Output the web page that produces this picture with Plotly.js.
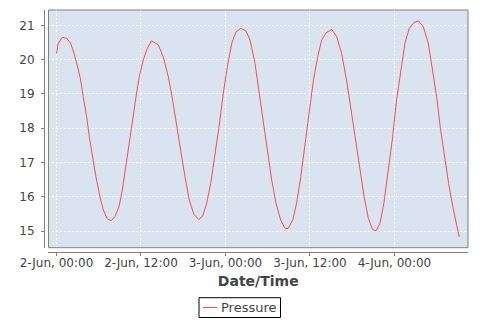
<!DOCTYPE html>
<html>
<head>
<meta charset="utf-8">
<script src="https://cdn.plot.ly/plotly-3.0.1.min.js"></script>
<style>html,body{margin:0;padding:0;background:#fff;}#chart{width:480px;height:320px;}</style>
</head>
<body>
<div id="chart"></div>
<script>
var seriesName = "Pressure";
var times = [
"2016-06-02 00:00","2016-06-02 00:15","2016-06-02 00:51","2016-06-02 01:27","2016-06-02 02:00","2016-06-02 02:30","2016-06-02 02:57","2016-06-02 03:26","2016-06-02 03:48","2016-06-02 04:17",
"2016-06-02 04:40","2016-06-02 05:08","2016-06-02 05:36","2016-06-02 06:11","2016-06-02 06:39","2016-06-02 07:12","2016-06-02 07:44","2016-06-02 08:18","2016-06-02 08:53","2016-06-02 09:21",
"2016-06-02 09:52","2016-06-02 10:21","2016-06-02 10:49","2016-06-02 11:18","2016-06-02 11:46","2016-06-02 12:20","2016-06-02 12:54","2016-06-02 13:30","2016-06-02 14:28","2016-06-02 15:10",
"2016-06-02 15:53","2016-06-02 16:30","2016-06-02 17:04","2016-06-02 17:38","2016-06-02 18:15","2016-06-02 18:52","2016-06-02 19:30","2016-06-02 20:12","2016-06-02 20:46","2016-06-02 21:20",
"2016-06-02 21:54","2016-06-02 22:30","2016-06-02 23:05","2016-06-02 23:42","2016-06-03 00:16","2016-06-03 00:54","2016-06-03 01:30","2016-06-03 02:10","2016-06-03 02:54","2016-06-03 03:30",
"2016-06-03 04:12","2016-06-03 04:48","2016-06-03 05:24","2016-06-03 05:54","2016-06-03 06:34","2016-06-03 07:11","2016-06-03 07:51","2016-06-03 08:28","2016-06-03 08:54","2016-06-03 09:33",
"2016-06-03 10:06","2016-06-03 10:42","2016-06-03 11:18","2016-06-03 11:54","2016-06-03 12:30","2016-06-03 13:06","2016-06-03 13:40","2016-06-03 14:17","2016-06-03 15:06","2016-06-03 15:48",
"2016-06-03 16:30","2016-06-03 17:12","2016-06-03 17:45","2016-06-03 18:24","2016-06-03 19:00","2016-06-03 19:42","2016-06-03 20:18","2016-06-03 20:54","2016-06-03 21:24","2016-06-03 21:57",
"2016-06-03 22:30","2016-06-03 23:06","2016-06-03 23:45","2016-06-04 00:18","2016-06-04 00:54","2016-06-04 01:30","2016-06-04 02:06","2016-06-04 02:45","2016-06-04 03:24","2016-06-04 04:06",
"2016-06-04 04:48","2016-06-04 05:24","2016-06-04 06:00","2016-06-04 06:30","2016-06-04 07:06","2016-06-04 07:42","2016-06-04 08:18","2016-06-04 09:12"
];
var pressure = [
20.18,20.48,20.65,20.62,20.48,20.18,19.84,19.41,18.92,18.34,
17.75,17.17,16.59,16.00,15.62,15.37,15.30,15.42,15.71,16.20,
16.88,17.56,18.24,18.92,19.50,19.99,20.33,20.55,20.43,20.08,
19.50,18.82,18.04,17.36,16.59,15.91,15.50,15.34,15.44,15.81,
16.39,17.17,18.04,19.02,19.79,20.48,20.81,20.91,20.84,20.57,
19.89,19.02,18.14,17.36,16.49,15.81,15.32,15.08,15.08,15.32,
15.81,16.59,17.56,18.53,19.41,20.08,20.57,20.78,20.88,20.67,
20.18,19.41,18.65,17.75,16.88,16.00,15.37,15.05,15.01,15.23,
15.81,16.69,17.75,18.82,19.70,20.48,20.91,21.08,21.13,20.96,
20.48,19.70,18.92,18.04,17.17,16.39,15.71,14.83
];
var xTitle = "Date/Time";

var lineColor = "#ff4a4a";
var gray = "#444444";
var font = "DejaVu Sans, sans-serif";

var trace = {
  x: times, y: pressure, type: "scatter", mode: "lines", name: seriesName,
  line: {color: lineColor, width: 1}, showlegend: false
};

var layout = {
  width: 480, height: 320,
  margin: {l: 44, r: 12, t: 10, b: 68, pad: 0},
  paper_bgcolor: "#ffffff",
  plot_bgcolor: "#dae4f0",
  font: {family: font, color: gray, size: 12},
  showlegend: false,
  xaxis: {
    type: "date",
    domain: [0.0106, 1],
    anchor: "free", position: 0,
    range: ["2016-06-01 22:52", "2016-06-04 10:27"],
    tick0: "2016-06-02 00:00", dtick: 12 * 3600 * 1000,
    tickformat: "%-d-%b, %H:%M",
    ticks: "outside", ticklen: 3, tickcolor: "#808080",
    showline: true, linecolor: "#808080", linewidth: 1,
    showgrid: true, gridcolor: "rgba(255,255,255,0.95)", griddash: "2px,2px", gridwidth: 1,
    zeroline: false,
    tickfont: {family: font, size: 12, color: gray},
    ticklabelstandoff: -3,
    title: {text: xTitle, font: {family: font, size: 14, color: gray, weight: "bold"}, standoff: 6}
  },
  yaxis: {
    domain: [0.0178, 1],
    anchor: "free", position: 0,
    range: [14.519, 21.446],
    tick0: 15, dtick: 1,
    ticks: "outside", ticklen: 3, tickcolor: "#808080",
    showline: true, linecolor: "#808080", linewidth: 1,
    showgrid: true, gridcolor: "rgba(255,255,255,0.95)", griddash: "2px,2px", gridwidth: 1,
    zeroline: false,
    tickfont: {family: font, size: 12, color: gray},
    ticklabelstandoff: 4
  },
  shapes: [
    {type: "rect", xref: "x domain", yref: "y domain", x0: 0, x1: 1, y0: 0, y1: 1,
     line: {color: "#808080", width: 1}, fillcolor: "rgba(0,0,0,0)", layer: "above"},
    {type: "rect", xref: "paper", yref: "paper", x0: 0.3656, x1: 0.5578, y0: -0.1888, y1: -0.2707,
     line: {color: "#000000", width: 1}, fillcolor: "#ffffff"},
    {type: "line", xref: "paper", yref: "paper", x0: 0.375, x1: 0.408, y0: -0.2293, y1: -0.2293,
     line: {color: lineColor, width: 1}}
  ],
  annotations: [
    {xref: "paper", yref: "paper", x: 0.4127, y: -0.2293, xanchor: "left", yanchor: "middle",
     text: seriesName, showarrow: false, font: {family: font, size: 13, color: gray}}
  ]
};

Plotly.newPlot("chart", [trace], layout, {displayModeBar: false, staticPlot: true});
</script>
</body>
</html>
